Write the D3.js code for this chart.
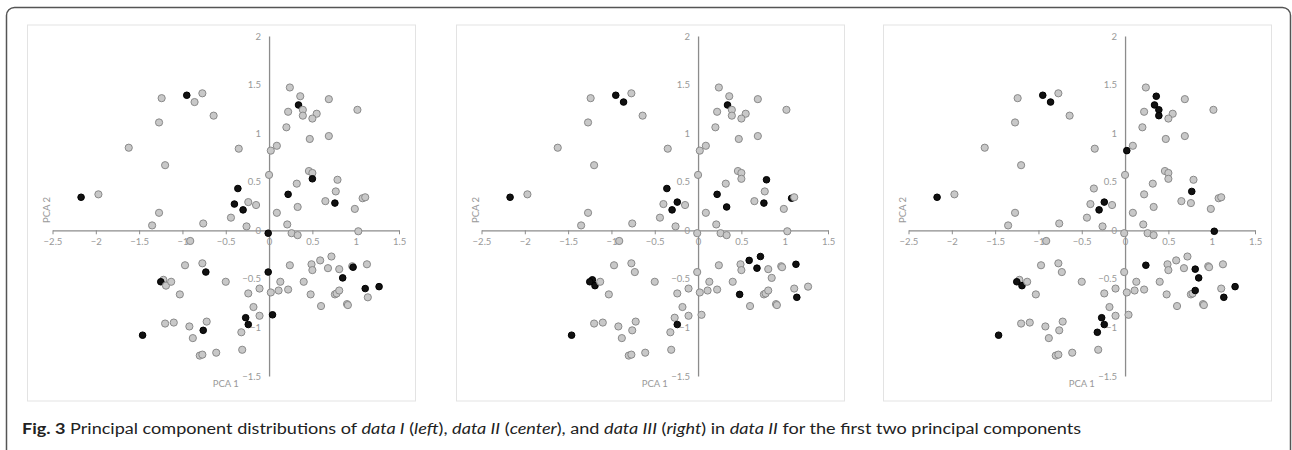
<!DOCTYPE html>
<html>
<head>
<meta charset="utf-8">
<script src="https://cdn.jsdelivr.net/npm/d3@7"></script>
<style>
body { margin: 0; background: #fff; }
</style>
</head>
<body>
<div id="chart"></div>
<script>
// PCA coordinates shared by all three panels
var pcaX = [-1.24, -0.95, -0.86, -0.77, -0.64, -1.27, -1.62, -1.20, -0.35, -2.17,
    -1.97, -1.27, -0.36, -0.40, -0.30, -0.24, -0.15, -0.44, 0.02, 0.09,
    0.00, 0.09, 0.24, 0.36, 0.34, 0.39, 0.39, 0.22, 0.55, 0.50,
    0.69, 1.02, 0.20, 0.47, 0.69, 0.46, 0.50, 0.50, 0.32, 0.79,
    0.22, 0.77, 0.65, 0.76, 0.33, 1.08, 1.11, 0.99, -1.35, -0.76,
    -0.26, 0.21, -0.01, 0.26, 0.33, 1.03, -0.91, -0.97, -0.77, -0.73,
    -1.22, -1.25, -1.19, -1.13, -1.03, -0.50, -0.01, 0.24, 0.13, -0.11,
    0.11, 0.22, 0.02, -0.24, -0.18, -0.11, 0.04, -0.27, -0.24, -0.32,
    -0.31, -0.72, -0.76, -0.92, -0.88, -1.10, -1.20, -1.46, -0.80, -0.77,
    -0.61, 0.40, 0.49, 0.50, 0.59, 0.72, 0.68, 0.81, 0.96, 0.97,
    1.13, 0.85, 0.48, 0.76, 0.78, 0.81, 0.60, 0.90, 0.91, 1.11,
    1.27, 1.14];
var pcaY = [1.36, 1.39, 1.32, 1.41, 1.18, 1.11, 0.85, 0.67, 0.84, 0.34,
    0.37, 0.18, 0.43, 0.27, 0.21, 0.29, 0.26, 0.13, 0.82, 0.87,
    0.57, 0.18, 1.47, 1.38, 1.29, 1.24, 1.18, 1.22, 1.20, 1.15,
    1.35, 1.24, 1.06, 0.94, 0.97, 0.61, 0.59, 0.53, 0.48, 0.52,
    0.37, 0.40, 0.30, 0.28, 0.24, 0.33, 0.34, 0.22, 0.05, 0.07,
    0.04, 0.06, -0.03, -0.03, -0.05, -0.01, -0.11, -0.36, -0.34, -0.43,
    -0.51, -0.53, -0.57, -0.53, -0.66, -0.53, -0.43, -0.36, -0.53, -0.60,
    -0.62, -0.61, -0.64, -0.65, -0.79, -0.88, -0.87, -0.90, -0.97, -1.05,
    -1.23, -0.94, -1.03, -0.99, -1.11, -0.95, -0.96, -1.08, -1.29, -1.28,
    -1.26, -0.53, -0.35, -0.41, -0.31, -0.27, -0.39, -0.40, -0.37, -0.38,
    -0.35, -0.49, -0.66, -0.66, -0.65, -0.62, -0.78, -0.76, -0.77, -0.60,
    -0.58, -0.69];

// indices of the points drawn black in each panel
var dataI = [1, 9, 12, 13, 14, 24, 37, 40, 43, 52, 59, 61, 66, 76, 77, 78, 82, 87, 99, 101, 109, 110];
var dataII = [1, 2, 9, 12, 14, 15, 24, 39, 40, 43, 44, 45, 60, 61, 62, 78, 87, 94, 95, 96, 100, 102, 111];
var dataIII = [1, 2, 9, 14, 15, 18, 23, 24, 25, 26, 41, 55, 61, 62, 67, 77, 78, 79, 87, 97, 101, 105, 110, 111];

var xTicks = [-2.5, -2, -1.5, -1, -0.5, 0, 0.5, 1, 1.5];
var yTicks = [-1.5, -1, -0.5, 0, 0.5, 1, 1.5, 2];

var width = 1292, height = 450;
var panelLeft = [27.5, 456.5, 883.5];
var panelW = 388, panelTop = 25, panelH = 376;
var gray = "#8c8c8c";
var font = "Lato, 'Open Sans', sans-serif";

var svg = d3.select("#chart").append("svg")
    .attr("width", width)
    .attr("height", height);

// outer figure frame
svg.append("rect")
    .attr("x", 6.5).attr("y", 7.5)
    .attr("width", 1284).attr("height", 500)
    .attr("rx", 8)
    .attr("fill", "none")
    .attr("stroke", "#555")
    .attr("stroke-width", 1.5);

var panels = [dataI, dataII, dataIII];

panels.forEach(function(hl, p) {
    var left = panelLeft[p];
    var g = svg.append("g");

    g.append("rect")
        .attr("x", left).attr("y", panelTop)
        .attr("width", panelW).attr("height", panelH)
        .attr("fill", "#fff")
        .attr("stroke", "#e3e3e3")
        .attr("stroke-width", 1);

    var x = d3.scaleLinear().domain([-2.5, 1.5]).range([left + 25, left + 371.5]);
    var y = d3.scaleLinear().domain([-1.5, 2]).range([376, 36]);

    var xAxis = g.append("g")
        .attr("transform", "translate(0," + y(0) + ")")
        .call(d3.axisBottom(x).tickValues(xTicks).tickSize(4).tickSizeOuter(0).tickPadding(4)
            .tickFormat(function(d) { return d3.format("")(d); }));

    var yAxis = g.append("g")
        .attr("transform", "translate(" + x(0) + ",0)")
        .call(d3.axisLeft(y).tickValues(yTicks).tickSize(0).tickSizeOuter(0).tickPadding(8)
            .tickFormat(function(d) { return d3.format("")(d); }));

    [xAxis, yAxis].forEach(function(a) {
        a.select(".domain").attr("stroke", gray).attr("stroke-width", 1.3);
        a.selectAll(".tick line").attr("stroke", gray).attr("stroke-width", 1);
        a.selectAll(".tick text")
            .attr("fill", "#999")
            .style("font-family", font)
            .style("font-size", "9.5px");
    });

    g.append("text")
        .attr("transform", "translate(" + (left + 22) + ",210) rotate(-90)")
        .attr("text-anchor", "middle")
        .attr("fill", "#999")
        .style("font-family", font)
        .style("font-size", "9.5px")
        .text("PCA 2");

    g.append("text")
        .attr("x", (x(-2.5) + x(1.5)) / 2)
        .attr("y", 387)
        .attr("text-anchor", "middle")
        .attr("fill", "#999")
        .style("font-family", font)
        .style("font-size", "9.5px")
        .text("PCA 1");

    var pts = pcaX.map(function(v, i) {
        return { x: v, y: pcaY[i], on: hl.indexOf(i) >= 0 };
    });

    g.selectAll(".dot")
        .data(pts)
        .enter().append("circle")
        .attr("class", "dot")
        .attr("cx", function(d) { return x(d.x); })
        .attr("cy", function(d) { return y(d.y); })
        .attr("r", function(d) { return d.on ? 3.3 : 3.6; })
        .attr("fill", function(d) { return d.on ? "#111" : "#c8c8c8"; })
        .attr("stroke", function(d) { return d.on ? "#000" : "#8a8a8a"; })
        .attr("stroke-width", 1);
});

// caption
var capG = svg.append("g");
var cap = capG.append("text")
    .attr("x", 0)
    .attr("y", 0)
    .attr("fill", "#222")
    .style("font-family", font)
    .style("font-size", "16px");

var parts = [
    ["Fig. 3", "bold", "normal"],
    [" Principal component distributions of ", "normal", "normal"],
    ["data I", "normal", "italic"],
    [" (", "normal", "normal"],
    ["left", "normal", "italic"],
    ["), ", "normal", "normal"],
    ["data II", "normal", "italic"],
    [" (", "normal", "normal"],
    ["center", "normal", "italic"],
    ["), and ", "normal", "normal"],
    ["data III", "normal", "italic"],
    [" (", "normal", "normal"],
    ["right", "normal", "italic"],
    [") in ", "normal", "normal"],
    ["data II", "normal", "italic"],
    [" for the first two principal components", "normal", "normal"]
];
parts.forEach(function(t) {
    cap.append("tspan")
        .attr("font-weight", t[1])
        .attr("font-style", t[2])
        .text(t[0]);
});

// the original caption face is condensed: squeeze horizontally to its width
var capW = cap.node().getComputedTextLength();
capG.attr("transform", "translate(22,434) scale(" + (1060 / capW) + ",1)");
</script>
</body>
</html>
